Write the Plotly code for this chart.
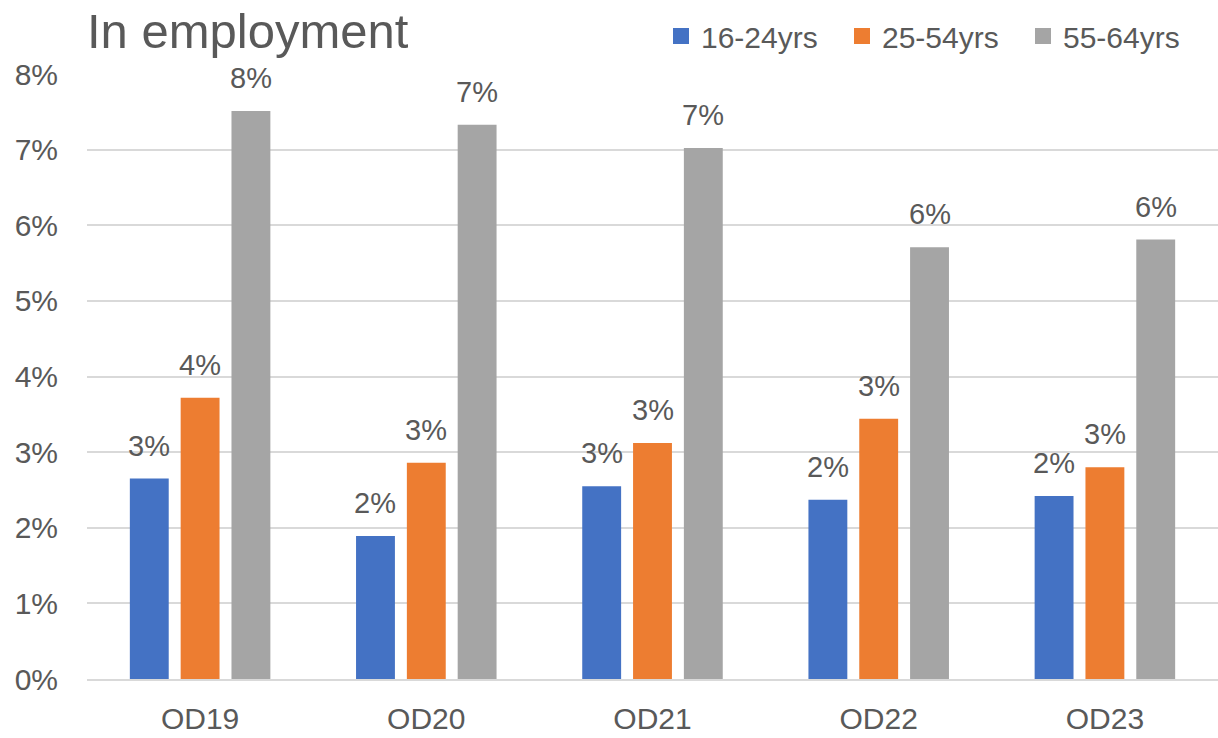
import plotly.graph_objects as go

# Survey periods and age bands
periods = ["OD19", "OD20", "OD21", "OD22", "OD23"]
age_groups = ["16-24yrs", "25-54yrs", "55-64yrs"]

# Share of people in employment, by age band (fractions)
share_16_24 = [0.0265, 0.0189, 0.0255, 0.0237, 0.0242]
share_25_54 = [0.0372, 0.0286, 0.0312, 0.0344, 0.0280]
share_55_64 = [0.0751, 0.0733, 0.0702, 0.0571, 0.0581]

y_tick_values = [0, 0.01, 0.02, 0.03, 0.04, 0.05, 0.06, 0.07, 0.08]
y_tick_labels = ["0%", "1%", "2%", "3%", "4%", "5%", "6%", "7%", "8%"]

series = [share_16_24, share_25_54, share_55_64]
colors = ["#4472C4", "#ED7D31", "#A5A5A5"]

FONT = "Liberation Sans, Arial, sans-serif"
TEXT_COLOR = "#595959"
BARGAP = 0.326
BARGROUPGAP = 0.235

fig = go.Figure()
for name, values, color in zip(age_groups, series, colors):
    fig.add_trace(go.Bar(
        x=periods,
        y=values,
        name=name,
        marker=dict(color=color, line=dict(width=0)),
        hoverinfo="skip",
        showlegend=False,
    ))

# Legend keys: square swatches in each series colour
for name, color in zip(age_groups, colors):
    fig.add_trace(go.Scatter(
        x=[None], y=[None], name=name, mode="markers",
        marker=dict(symbol="square", size=16, color=color),
        showlegend=True, hoverinfo="skip",
    ))

# Value labels above each bar, centred on the bar within its group
n_series = len(series)
slot = (1 - BARGAP) / n_series
annotations = []
for i, values in enumerate(series):
    offset = -(1 - BARGAP) / 2 + slot * (i + 0.5)
    for j, v in enumerate(values):
        annotations.append(dict(
            x=j + offset, y=v, xref="x", yref="y",
            text=f"{round(v * 100):.0f}%",
            showarrow=False, yanchor="bottom", xanchor="center",
            yshift=15,
            font=dict(family=FONT, size=29, color=TEXT_COLOR),
        ))

fig.update_layout(
    width=1218, height=738,
    margin=dict(l=87, r=0, t=74, b=59, autoexpand=False),
    paper_bgcolor="white", plot_bgcolor="white",
    barmode="group", bargap=BARGAP, bargroupgap=BARGROUPGAP,
    font=dict(family=FONT, size=30, color=TEXT_COLOR),
    title=dict(
        text="In employment",
        font=dict(family=FONT, size=49, color=TEXT_COLOR),
        x=87 / 1218, xanchor="left", xref="container",
        y=1 - 31 / 738, yanchor="middle", yref="container",
    ),
    legend=dict(
        orientation="h",
        x=661 / 1218, xanchor="left", xref="container",
        y=1 - 36 / 738, yanchor="middle", yref="container",
        font=dict(family=FONT, size=30, color=TEXT_COLOR),
        bgcolor="rgba(0,0,0,0)",
        traceorder="normal",
        entrywidth=136,
    ),
    annotations=annotations,
    showlegend=True,
)

fig.update_xaxes(
    type="category",
    showgrid=False, showline=True, linecolor="#D9D9D9", linewidth=2,
    ticks="", tickfont=dict(family=FONT, size=30, color=TEXT_COLOR),
    ticklabelstandoff=12,
)
fig.update_yaxes(
    range=[0, 0.08],
    tickvals=y_tick_values, ticktext=y_tick_labels,
    showgrid=True, gridcolor="#D9D9D9", gridwidth=2,
    zeroline=False, showline=False, ticks="",
    tickfont=dict(family=FONT, size=30, color=TEXT_COLOR),
    ticklabelstandoff=28,
)

fig.write_html("out.html")
